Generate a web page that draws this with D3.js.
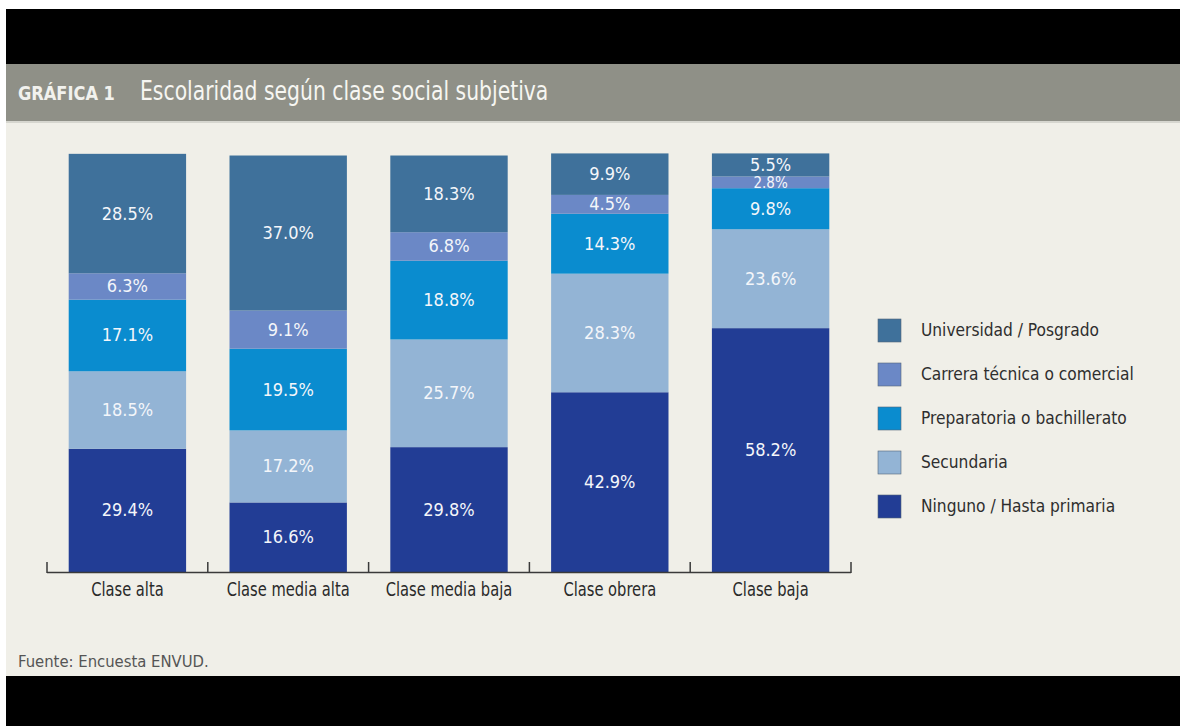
<!DOCTYPE html>
<html>
<head>
<meta charset="utf-8">
<script src="https://cdn.jsdelivr.net/npm/d3@7"></script>
<style>
  body { margin: 0; background: #ffffff; }
  svg { display: block; }
</style>
</head>
<body>
<div id="chart"></div>
<script>
// data
const categories = ["Clase alta", "Clase media alta", "Clase media baja", "Clase obrera", "Clase baja"];
const seriesNames = ["Ninguno / Hasta primaria", "Secundaria", "Preparatoria o bachillerato", "Carrera técnica o comercial", "Universidad / Posgrado"];
const ninguno      = [29.4, 16.6, 29.8, 42.9, 58.2];
const secundaria   = [18.5, 17.2, 25.7, 28.3, 23.6];
const preparatoria = [17.1, 19.5, 18.8, 14.3, 9.8];
const carrera      = [6.3, 9.1, 6.8, 4.5, 2.8];
const universidad  = [28.5, 37.0, 18.3, 9.9, 5.5];
const colors = ["#223d95", "#93b4d5", "#0a8ccf", "#6b88c6", "#3f719b"];

const W = 1180, H = 726;
const font = "'Liberation Sans Narrow', 'DejaVu Sans Condensed', 'Roboto Condensed', sans-serif";

const svg = d3.select("#chart").append("svg")
    .attr("width", W)
    .attr("height", H)
    .style("font-family", font);

// squeezed text, the original uses a narrow face
function narrowText(parent, x, y, sx) {
    return parent.append("text")
        .attr("transform", "translate(" + x + "," + y + ") scale(" + sx + ",1)");
}

// frame: black bands, grey header, light panel
svg.append("rect").attr("x", 6).attr("y", 9).attr("width", W - 6).attr("height", 55).attr("fill", "#000");
svg.append("rect").attr("x", 6).attr("y", 64).attr("width", W - 6).attr("height", 57).attr("fill", "#8f9087");
svg.append("rect").attr("x", 6).attr("y", 121).attr("width", W - 6).attr("height", 2).attr("fill", "#d6d6cf");
svg.append("rect").attr("x", 6).attr("y", 123).attr("width", W - 6).attr("height", 553).attr("fill", "#f0efe8");
svg.append("rect").attr("x", 6).attr("y", 676).attr("width", W - 6).attr("height", 50).attr("fill", "#000");

// title
narrowText(svg, 18, 100, 0.95)
    .attr("font-size", "19px").attr("font-weight", "bold")
    .attr("fill", "#f2f2ee")
    .text("GRÁFICA 1");
narrowText(svg, 140, 100, 0.87)
    .attr("font-size", "26px")
    .attr("fill", "#f6f6f2")
    .text("Escolaridad según clase social subjetiva");

// stacked data
const rows = categories.map((c, i) => ({
    cat: c,
    [seriesNames[0]]: ninguno[i],
    [seriesNames[1]]: secundaria[i],
    [seriesNames[2]]: preparatoria[i],
    [seriesNames[3]]: carrera[i],
    [seriesNames[4]]: universidad[i]
}));
const stacked = d3.stack().keys(seriesNames)(rows);

const x = d3.scaleBand().domain(categories).range([47, 851]).paddingInner(0.27).paddingOuter(0.135);
const y = d3.scaleLinear().domain([0, 100]).range([572, 153]);

const g = svg.append("g");
const layers = g.selectAll(".layer")
    .data(stacked)
    .join("g")
    .attr("class", "layer")
    .attr("fill", (d, i) => colors[i]);

layers.selectAll("rect")
    .data(d => d)
    .join("rect")
    .attr("x", d => x(d.data.cat))
    .attr("width", x.bandwidth())
    .attr("y", d => y(d[1]))
    .attr("height", d => y(d[0]) - y(d[1]));

// value labels
stacked.forEach(layer => {
    g.selectAll(null)
        .data(layer)
        .join("text")
        .attr("x", d => x(d.data.cat) + x.bandwidth() / 2)
        .attr("y", d => (y(d[0]) + y(d[1])) / 2 + 1)
        .attr("text-anchor", "middle")
        .attr("dominant-baseline", "middle")
        .attr("font-size", d => (d[1] - d[0]) < 4 ? "15px" : "18px")
        .attr("fill", "#f4f6fa")
        .text(d => (d[1] - d[0]).toFixed(1) + "%");
});

// axis: baseline with ticks between bands
const edges = categories.map(c => x(c) - x.step() * x.paddingInner() / 2);
edges.push(851);
svg.append("line")
    .attr("x1", 47).attr("x2", 851)
    .attr("y1", 572.5).attr("y2", 572.5)
    .attr("stroke", "#3a3a3a").attr("stroke-width", 1.5);
svg.selectAll(".tick")
    .data(edges)
    .join("line")
    .attr("class", "tick")
    .attr("x1", d => d).attr("x2", d => d)
    .attr("y1", 562).attr("y2", 573)
    .attr("stroke", "#3a3a3a").attr("stroke-width", 1.5);

categories.forEach(c => {
    narrowText(svg, x(c) + x.bandwidth() / 2, 596, 0.86)
        .attr("text-anchor", "middle")
        .attr("font-size", "19px")
        .attr("fill", "#2a2a2a")
        .text(c);
});

// legend (top to bottom is reverse of stack order)
const legendItems = seriesNames.map((s, i) => ({ name: s, color: colors[i] })).reverse();
const legend = svg.append("g").attr("transform", "translate(878,319)");
legendItems.forEach((d, i) => {
    const row = legend.append("g").attr("transform", "translate(0," + i * 44 + ")");
    row.append("rect")
        .attr("width", 23).attr("height", 23)
        .attr("fill", d.color)
        .attr("stroke", "#55657a").attr("stroke-width", 0.6);
    narrowText(row, 43, 12, 0.955)
        .attr("dominant-baseline", "middle")
        .attr("font-size", "18px")
        .attr("fill", "#2e2e2e")
        .text(d.name);
});

// source
svg.append("text")
    .attr("x", 18).attr("y", 667)
    .attr("font-size", "16.5px")
    .attr("fill", "#555")
    .text("Fuente: Encuesta ENVUD.");
</script>
</body>
</html>
